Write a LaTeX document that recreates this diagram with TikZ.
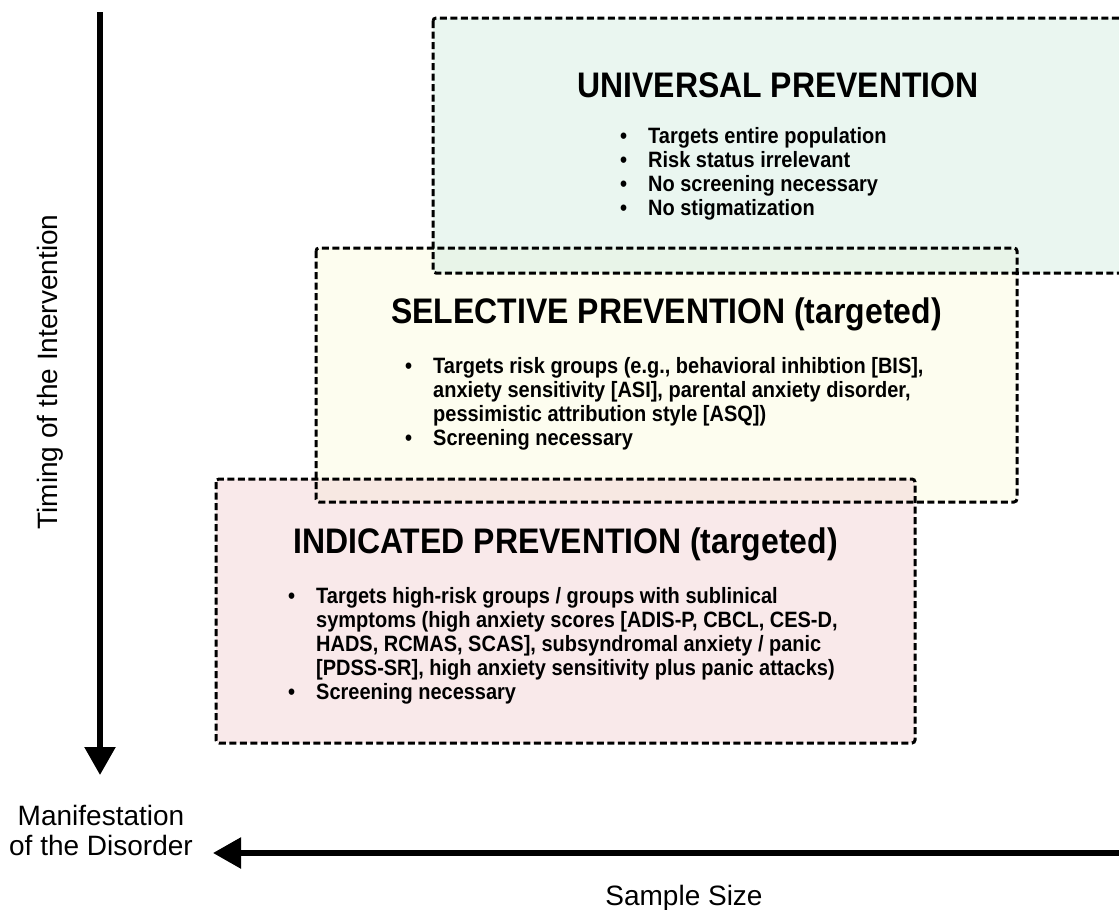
\documentclass[tikz,border=0pt]{standalone}
\usepackage{fontspec}
\setmainfont{Liberation Sans}
\newfontfamily\boxfont{Liberation Sans}[FakeStretch=0.9]
\usepackage{xcolor}
\definecolor{UnivFill}{HTML}{D5EDE1}
\definecolor{SelFill}{HTML}{FBFBDF}
\definecolor{IndFill}{HTML}{F3D3D5}
\usepackage{tikz}
\usetikzlibrary{positioning, arrows.meta}
\newcommand{\bul}{\textbullet}

\begin{document}
\begin{tikzpicture}[
    x=1pt, y=-1pt,
    prevbox/.style={fill opacity=0.5, outer sep=0pt, inner sep=0pt, rounded corners=3pt, anchor=north west},
    dashborder/.style={draw=black, line width=3pt, dash pattern=on 7pt off 3.5pt, rounded corners=3pt},
    titletxt/.style={font=\fontsize{35.5}{38}\selectfont\boxfont\bfseries, anchor=base, inner sep=0pt},
    listtxt/.style={font=\fontsize{22.2}{24}\selectfont\boxfont\bfseries, anchor=base west, inner sep=0pt},
    axistxt/.style={font=\fontsize{28}{30}\selectfont, inner sep=0pt},
    axisarrow/.style={line width=5.5pt, -{Triangle[width=30pt, length=28pt]}}
]
\useasboundingbox (0,0) rectangle (1119,910);
\clip (0,0) rectangle (1119,910);
% the three prevention levels
\node[prevbox, fill=SelFill, minimum width=701pt, minimum height=254pt] (sel) at (316,248) {};
\node[prevbox, fill=UnivFill, minimum width=690pt, minimum height=255pt] (univ) at (433,18) {};
\node[prevbox, fill=IndFill, minimum width=699pt, minimum height=264pt] (ind) at (216,479) {};
\foreach \b in {sel, univ, ind}
    \draw[dashborder] (\b.north west) rectangle (\b.south east);
\node[titletxt] (univtitle) at ([yshift=-79pt]univ.north) {UNIVERSAL PREVENTION};
\node[titletxt] (seltitle) at ([yshift=-75pt]sel.north) {SELECTIVE PREVENTION (targeted)};
\node[titletxt] (indtitle) at ([yshift=-74pt]ind.north) {INDICATED PREVENTION (targeted)};
\node[listtxt] (univlist) at (620,143) {\begin{tabular}[t]{@{}p{28pt}@{}l@{}}
\bul & Targets entire population\\
\bul & Risk status irrelevant\\
\bul & No screening necessary\\
\bul & No stigmatization
\end{tabular}};
\node[listtxt] (sellist) at (405,373) {\begin{tabular}[t]{@{}p{28pt}@{}l@{}}
\bul & Targets risk groups (e.g., behavioral inhibtion [BIS],\\
 & anxiety sensitivity [ASI], parental anxiety disorder,\\
 & pessimistic attribution style [ASQ])\\
\bul & Screening necessary
\end{tabular}};
\node[listtxt] (indlist) at (288,603) {\begin{tabular}[t]{@{}p{28pt}@{}l@{}}
\bul & Targets high-risk groups / groups with sublinical\\
 & symptoms (high anxiety scores [ADIS-P, CBCL, CES-D,\\
 & HADS, RCMAS, SCAS], subsyndromal anxiety / panic\\
 & [PDSS-SR], high anxiety sensitivity plus panic attacks)\\
\bul & Screening necessary
\end{tabular}};
% axes
\coordinate (timetop) at (100,12);
\coordinate (timeend) at (100,775);
\coordinate (sizestart) at (1125,853);
\coordinate (sizeend) at (213,853);
\draw[axisarrow] (timetop) -- (timeend);
\draw[axisarrow] (sizestart) -- (sizeend);
\node[axistxt, rotate=90] (timing) at (50,372) {Timing of the Intervention};
\node[axistxt, align=center, anchor=north] (manifest) at (101,805) {Manifestation\\of the Disorder};
\node[axistxt, anchor=base] (samplesize) at (684,905) {Sample Size};
\end{tikzpicture}
\end{document}
